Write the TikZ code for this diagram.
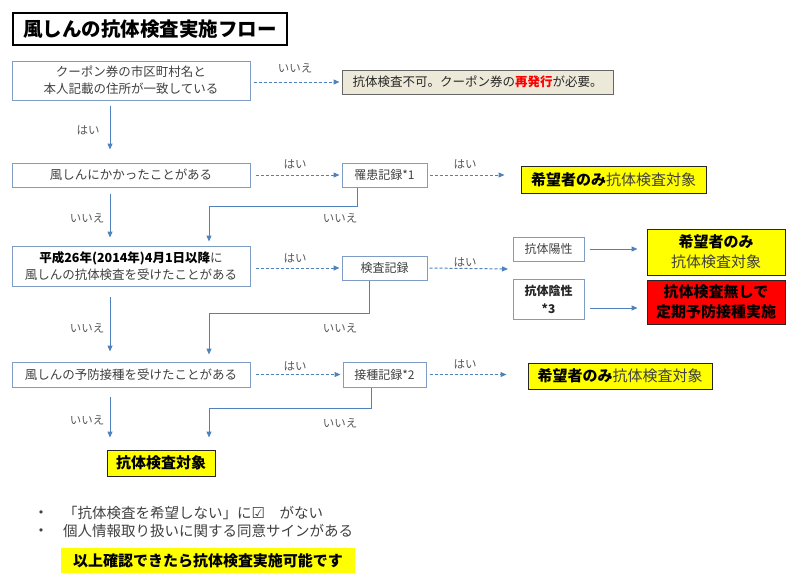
\documentclass[tikz,border=0pt]{standalone}
\usepackage{fontspec}
\setmainfont{Noto Sans CJK JP}
\newfontfamily\djv{DejaVu Sans}
\usetikzlibrary{arrows.meta,calc}
\definecolor{boxline}{HTML}{7F9DC4}
\definecolor{arrblue}{HTML}{4F81BD}
\definecolor{txt}{HTML}{404040}
\definecolor{lbl}{HTML}{595959}
\definecolor{beige}{HTML}{ECE9D8}
\definecolor{ylw}{HTML}{FFFF00}
\definecolor{rd}{HTML}{FF0000}
\tikzset{
  box/.style={draw=boxline, line width=1pt, fill=white, text=txt, inner sep=0pt, align=center, font=\fontsize{12.5}{17}\selectfont},
  sbox/.style={box, font=\fontsize{12}{16}\selectfont},
  ybox/.style={draw=black!85, line width=1pt, fill=ylw, text=black, inner sep=0pt, align=center, font=\fontsize{15}{20}\selectfont},
  lab/.style={text=lbl, inner sep=0pt, font=\fontsize{11.5}{14}\selectfont},
  sarr/.style={draw=arrblue, line width=1pt, -{Triangle[length=6pt,width=5pt]}},
  darr/.style={sarr, dash pattern=on 3pt off 2pt},
  bul/.style={text=txt, inner sep=0pt, font=\djv\fontsize{11}{13}\selectfont},
}
\begin{document}
\begin{tikzpicture}[x=1pt,y=-1pt]
\useasboundingbox (0,0) rectangle (796,587);
% title
\node[draw=black, line width=2pt, minimum width=274, minimum height=32, inner sep=0pt, font=\fontsize{19.5}{22}\selectfont\bfseries] (title) at (150,29) {風しんの抗体検査実施フロー};
% left column
\node[box, minimum width=238, minimum height=39] (b1) at (131,80.5) {クーポン券の市区町村名と\\本人記載の住所が一致している};
\node[box, minimum width=238, minimum height=24] (b2) at (131,175) {風しんにかかったことがある};
\node[box, minimum width=238, minimum height=40] (b3) at (131,266) {{\bfseries\color{black}平成26年(2014年)4月1日以降}に\\風しんの抗体検査を受けたことがある};
\node[box, minimum width=238, minimum height=25] (b4) at (131,374.5) {風しんの予防接種を受けたことがある};
\node[ybox, minimum width=108, minimum height=26, font=\fontsize{15}{20}\selectfont\bfseries] (tgt) at (161,463) {抗体検査対象};
% middle column
\node[draw=black!60, line width=1pt, fill=beige, minimum width=271, minimum height=24, inner sep=0pt, text=black!85, font=\fontsize{12.5}{16}\selectfont] (nf) at (477.5,82) {抗体検査不可。クーポン券の{\bfseries\color{rd}再発行}が必要。};
\node[sbox, minimum width=85, minimum height=24] (r1) at (384.5,175) {罹患記録*1};
\node[sbox, minimum width=85, minimum height=24] (k1) at (384.5,268) {検査記録};
\node[sbox, minimum width=83, minimum height=25] (s1) at (384.5,374.5) {接種記録*2};
% right
\node[ybox, minimum width=185, minimum height=27] (y1) at (613.5,179.5) {{\bfseries 希望者のみ}{\color{txt}抗体検査対象}};
\node[sbox, minimum width=71, minimum height=24] (pos) at (548.5,249) {抗体陽性};
\node[sbox, minimum width=71, minimum height=40, text=black!85, font=\fontsize{12}{18}\selectfont\bfseries] (neg) at (548.5,299) {抗体陰性\\*3};
\node[ybox, minimum width=138, minimum height=46] (y2) at (716,252) {{\bfseries 希望者のみ}\\{\color{txt}抗体検査対象}};
\node[draw=black!85, line width=1pt, fill=rd, minimum width=138, minimum height=44, inner sep=0pt, align=center, font=\fontsize{15}{20}\selectfont\bfseries] (red) at (716,302) {抗体検査無しで\\定期予防接種実施};
\node[ybox, minimum width=184, minimum height=26] (y3) at (620,376) {{\bfseries 希望者のみ}{\color{txt}抗体検査対象}};
\coordinate (kend) at (508,269);
% connectors
\draw[darr, shorten <=3pt, shorten >=2pt] (b1.east |- nf.west) -- (nf.west);
\draw[sarr, shorten <=5pt, shorten >=13pt] ([xshift=-21pt]b1.south) -- ([xshift=-21pt]b2.north);
\draw[darr, shorten <=5pt, shorten >=2pt] (b2.east) -- (r1.west);
\draw[darr, shorten <=2pt, shorten >=16pt] (r1.east) -- (r1.east -| y1.west);
\draw[sarr, shorten <=6pt, shorten >=8pt] ([xshift=-21pt]b2.south) -- ([xshift=-21pt]b3.north);
\draw[sarr, shorten >=4pt] ([xshift=-27.5pt]r1.south) -- ++(0,19) -| ([xshift=78pt]b3.north);
\draw[darr, shorten <=5pt, shorten >=2pt] (b3.east |- k1.west) -- (k1.west);
\draw[darr, shorten <=2pt] (k1.east) -- (kend);
\draw[sarr, shorten <=5pt, shorten >=9pt] (pos.east) -- (pos.east -| y2.west);
\draw[sarr, shorten <=5pt, shorten >=9pt] ([yshift=-9pt]neg.east) -- ([yshift=-9pt]neg.east -| red.west);
\draw[sarr, shorten <=10pt, shorten >=10pt] ([xshift=-21pt]b3.south) -- ([xshift=-21pt]b4.north);
\draw[sarr, shorten >=7pt] ([xshift=-15.5pt]k1.south) -- ++(0,33) -| ([xshift=78pt]b4.north);
\draw[darr, shorten <=5pt, shorten >=2pt] (b4.east) -- (s1.west);
\draw[darr, shorten <=3pt, shorten >=21pt] (s1.east) -- (s1.east -| y3.west);
\draw[sarr, shorten <=9pt, shorten >=12pt] ([xshift=-21pt]b4.south) -- ([xshift=-21pt]b4.south |- tgt.north);
\draw[sarr, shorten >=12pt] ([xshift=-13.5pt]s1.south) -- ++(0,21) -| ([xshift=78pt]b4.south |- tgt.north);
% labels
\node[lab] (l1) at (295,68) {いいえ};
\node[lab] (l2) at (88,130) {はい};
\node[lab] (l3) at (295,164) {はい};
\node[lab] (l4) at (465,164) {はい};
\node[lab] (l5) at (87,218) {いいえ};
\node[lab] (l6) at (340,218) {いいえ};
\node[lab] (l7) at (295,258) {はい};
\node[lab] (l8) at (465,262) {はい};
\node[lab] (l9) at (87,328) {いいえ};
\node[lab] (l10) at (340,328) {いいえ};
\node[lab] (l11) at (295,366) {はい};
\node[lab] (l12) at (465,364) {はい};
\node[lab] (l13) at (87,420) {いいえ};
\node[lab] (l14) at (340,423) {いいえ};
% bottom notes
\node[bul] (bu1) at (41,514) {•};
\node[bul] (bu2) at (41,532) {•};
\node[anchor=west, text=txt, inner sep=0pt, font=\fontsize{14.5}{17}\selectfont] (n1) at (63,513) {「抗体検査を希望しない」に{\djv\fontsize{15}{17}\selectfont ☑}　がない};
\node[anchor=west, text=txt, inner sep=0pt, font=\fontsize{14.5}{17}\selectfont] (n2) at (63,531) {個人情報取り扱いに関する同意サインがある};
\node[fill=ylw, minimum width=294, minimum height=25, inner sep=0pt, font=\fontsize{15}{18}\selectfont\bfseries] (fin) at (208,560.5) {以上確認できたら抗体検査実施可能です};
\end{tikzpicture}
\end{document}
